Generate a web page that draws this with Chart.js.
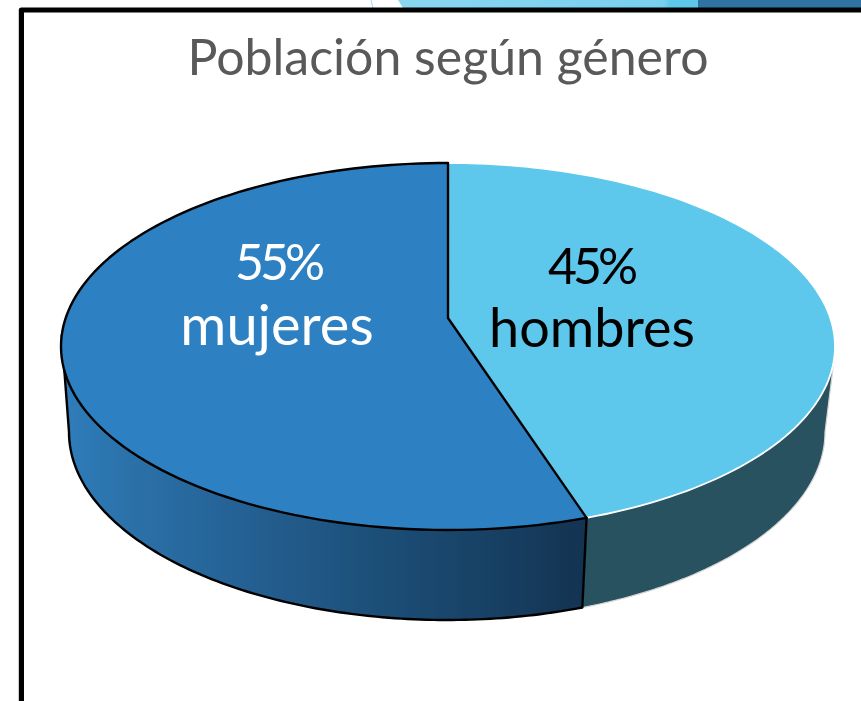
<!DOCTYPE html>
<html lang="es">
<head>
<meta charset="utf-8">
<title>Población según género</title>
<style>html,body{margin:0;padding:0;background:#fff;overflow:hidden}canvas{display:block}</style>
<script src="https://cdn.jsdelivr.net/npm/chart.js@4/dist/chart.umd.min.js"></script>
</head>
<body>
<canvas id="c" width="861" height="701"></canvas>
<script>
const categories = ["hombres", "mujeres"];
const shares = [45, 55];
const titleText = "Población según género";
const topColors = ["#5DC8EC", "#2D80C1"];
const FONT = 'Lato, "Noto Sans", sans-serif';

const TOP = {cx: 448, cy: 346.5, rx: 387, ry: 183.5};
const BOTTOM = {cx: 447, cy: 432, rx: 378, ry: 188};
const SKEW = 0.155;

function project(g, a) {
  const u = Math.cos(a), v = Math.sin(a), d = 1 - SKEW * v;
  return [g.cx + g.rx * u * Math.sqrt(1 - SKEW * SKEW) / d, g.cy + g.ry * (v - SKEW) / d];
}
function sweep(ctx, g, a0, a1) {
  const n = 120;
  for (let i = 0; i <= n; i++) {
    const p = project(g, a0 + (a1 - a0) * i / n);
    ctx.lineTo(p[0], p[1]);
  }
}
const A0 = Math.asin(SKEW);

function wall(ctx, arc, fill, stroke, lw) {
  const right = arc.startAngle < A0 && arc.endAngle > A0;
  const lo = right ? A0 : arc.startAngle;
  const hi = right ? arc.endAngle : Math.PI - A0;
  ctx.beginPath();
  if (right) {
    const r = project(TOP, hi);
    const e = project(TOP, A0 + 0.06);
    ctx.moveTo(e[0], e[1]);
    sweep(ctx, BOTTOM, lo, hi);
    ctx.lineTo(r[0], r[1]);
  } else {
    const e = project(TOP, hi + 0.06);
    const r = project(TOP, lo);
    ctx.moveTo(r[0], r[1]);
    sweep(ctx, BOTTOM, lo, hi);
    ctx.lineTo(e[0], e[1]);
  }
  ctx.closePath();
  ctx.fillStyle = fill;
  ctx.fill();
  ctx.strokeStyle = stroke;
  ctx.lineWidth = lw;
  ctx.lineJoin = "round";
  ctx.stroke();
}
function face(ctx, arc, fill, stroke, lw) {
  ctx.beginPath();
  ctx.moveTo(TOP.cx, TOP.cy - SKEW * TOP.ry);
  sweep(ctx, TOP, arc.startAngle, arc.endAngle);
  ctx.closePath();
  ctx.fillStyle = fill;
  ctx.fill();
  ctx.strokeStyle = stroke;
  ctx.lineWidth = lw;
  ctx.lineJoin = "round";
  ctx.stroke();
}

const pie3d = {
  id: "pie3d",
  beforeDraw(chart) {
    const ctx = chart.ctx;
    ctx.save();
    ctx.fillStyle = "#fff";
    ctx.fillRect(0, 0, 861, 701);
    const band = ctx.createLinearGradient(398, 0, 700, 0);
    band.addColorStop(0, "#8AD6F1");
    band.addColorStop(0.88, "#78D0EF");
    band.addColorStop(0.9, "#5DC8EC");
    band.addColorStop(1, "#5DC8EC");
    ctx.fillStyle = band;
    ctx.beginPath();
    ctx.moveTo(398, 0); ctx.lineTo(700, 0); ctx.lineTo(698, 8); ctx.lineTo(403, 8);
    ctx.closePath(); ctx.fill();
    ctx.fillStyle = "#2F72A4";
    ctx.fillRect(698, 0, 163, 8);
    ctx.strokeStyle = "#9ADCF2";
    ctx.lineWidth = 1;
    ctx.beginPath(); ctx.moveTo(371, 0); ctx.lineTo(373, 8); ctx.stroke();
    ctx.strokeStyle = "#000";
    ctx.lineWidth = 5.2;
    ctx.lineJoin = "round";
    ctx.beginPath();
    ctx.moveTo(21.4, 705); ctx.lineTo(21.4, 10); ctx.lineTo(866, 10);
    ctx.stroke();
    ctx.restore();
  },
  beforeDatasetDraw(chart, args) {
    const ctx = chart.ctx;
    const arcs = chart.getDatasetMeta(args.index).data;
    ctx.save();
    wall(ctx, arcs[0], "#28525F", "#D4D4D4", 1.2);
    face(ctx, arcs[0], topColors[0], "#FFFFFF", 1.8);
    const g = ctx.createLinearGradient(63, 0, 586, 0);
    g.addColorStop(0, "#2E7DBB");
    g.addColorStop(0.12, "#2B72AA");
    g.addColorStop(0.35, "#246093");
    g.addColorStop(0.6, "#1C4F78");
    g.addColorStop(0.88, "#163C5E");
    g.addColorStop(1, "#133351");
    wall(ctx, arcs[1], g, "#000", 2.4);
    face(ctx, arcs[1], topColors[1], "#000", 2.4);
    ctx.restore();
    return false;
  },
  afterDatasetsDraw(chart) {
    const ctx = chart.ctx;
    const spots = [[591, 268, 592, 330, "#000", 54], [278, 264, 277, 327, "#fff", 56]];
    ctx.save();
    ctx.textAlign = "center";
    ctx.textBaseline = "middle";
    spots.forEach((s, i) => {
      ctx.fillStyle = s[4];
      ctx.font = "50px " + FONT;
      ctx.letterSpacing = "-4px";
      ctx.fillText(shares[i] + "%", s[0], s[1]);
      ctx.font = s[5] + "px " + FONT;
      ctx.letterSpacing = "0px";
      ctx.fillText(categories[i], s[2], s[3]);
    });
    ctx.restore();
  }
};

new Chart(document.getElementById("c"), {
  type: "pie",
  data: {labels: categories, datasets: [{data: shares, backgroundColor: topColors}]},
  options: {
    responsive: false,
    animation: false,
    layout: {padding: {left: 35, top: 29}},
    plugins: {
      legend: {display: false},
      tooltip: {enabled: false},
      title: {display: true, text: titleText, color: "#595959", font: {family: FONT, size: 50, weight: "normal"}, padding: 0}
    }
  },
  plugins: [pie3d]
});
</script>
</body>
</html>
